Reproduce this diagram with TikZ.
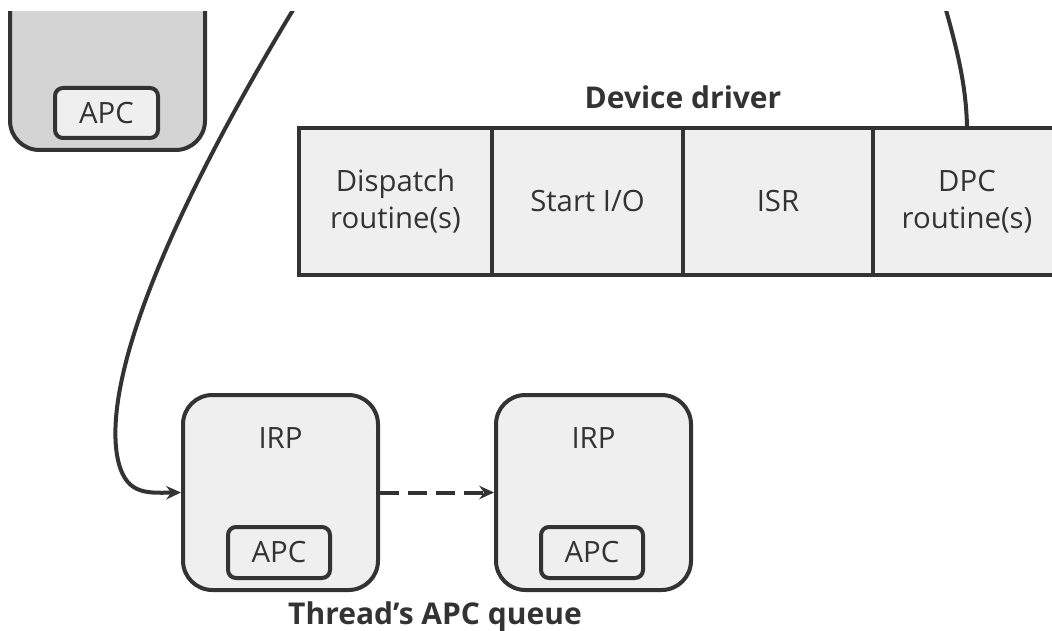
\documentclass[tikz,border=0pt]{standalone}
\usepackage{fontspec}
\setmainfont{Open Sans}
\usetikzlibrary{arrows.meta}
\definecolor{ink}{HTML}{333333}
\definecolor{boxfill}{HTML}{EFEFEF}
\definecolor{darkfill}{HTML}{D4D4D4}
\tikzset{
  outline/.style={draw=ink, line width=3pt},
  cell/.style={outline, fill=boxfill, rectangle, inner sep=0pt, minimum height=147*0.75pt, align=center, font=\fontsize{22}{28}\selectfont, text=ink},
  irpbox/.style={outline, fill=boxfill, rounded corners=22pt, inner sep=0pt, minimum width=195*0.75pt, minimum height=195*0.75pt},
  apcbox/.style={outline, fill=boxfill, rounded corners=6pt, inner sep=0pt, minimum width=102*0.75pt, minimum height=51*0.75pt, font=\fontsize{22}{26}\selectfont, text=ink},
  lbl/.style={font=\fontsize{22}{26}\selectfont, text=ink},
  title/.style={font=\bfseries\fontsize{22.5}{26}\selectfont, text=ink},
  conn/.style={draw=ink, line width=3pt},
  tip/.style={-{Stealth[length=11pt,width=10pt]}}
}
\begin{document}
\begin{tikzpicture}[x=0.75pt,y=-0.75pt]
\useasboundingbox (0,0) rectangle (1052,631);
\begin{scope}
\clip (0,12) rectangle (1052,631);
% top-left box
\path[outline, fill=darkfill, rounded corners=22pt] (10,-60) rectangle (205,150);
\node[apcbox, minimum width=103*0.75pt, minimum height=50*0.75pt] (apc0) at (106.5,113) {APC};
% device driver table
\node[cell, minimum width=193*0.75pt] (disp) at (395.5,201.5) {Dispatch\\routine(s)};
\node[cell, minimum width=191*0.75pt] (start) at (587.5,201.5) {Start I/O};
\node[cell, minimum width=190*0.75pt] (isr) at (778,201.5) {ISR};
\node[cell, minimum width=188*0.75pt] (dpc) at (967,201.5) {DPC\\routine(s)};
\node[title] (dd) at (683,97) {Device driver};
% IRPs
\node[irpbox] (irp1) at (280.5,492.5) {};
\node[lbl] at (280.5,438) {IRP};
\node[apcbox] (apc1) at (279,552.5) {APC};
\node[irpbox] (irp2) at (593.5,492.5) {};
\node[lbl] at (593.5,438) {IRP};
\node[apcbox] (apc2) at (592,552.5) {APC};
\node[title] (tq) at (435,617) {Thread's APC queue};
% connectors
\coordinate (topL) at (293,10);
\coordinate (topR) at (946,10);
\draw[conn, tip] (topL) .. controls (160,230) and (105,380) .. (117,455) .. controls (124,495) and (145,493) .. (irp1.west);
\draw[conn] (topR) .. controls (960,60) and (966,90) .. (dpc.north);
\draw[conn, tip, dash pattern=on 14pt off 7pt] (irp1.east) -- (irp2.west);
\end{scope}
\end{tikzpicture}
\end{document}
